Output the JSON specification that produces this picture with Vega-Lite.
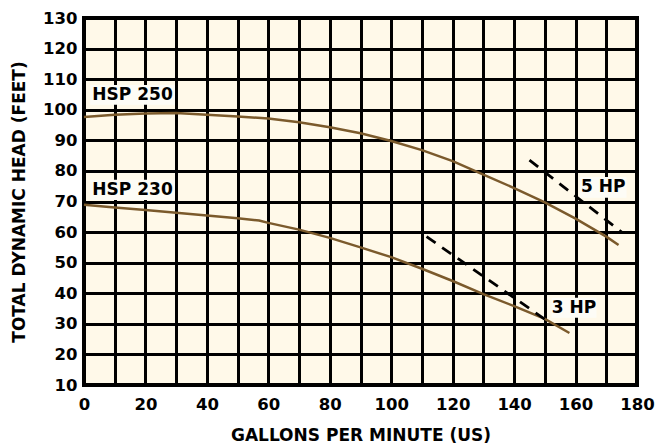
{
  "$schema": "https://vega.github.io/schema/vega-lite/v6.json",
  "autosize": "none",
  "width": 553,
  "height": 367,
  "padding": {"left": 84, "top": 18, "right": 21, "bottom": 59},
  "background": "#ffffff",
  "config": {
    "view": {"fill": "#FFF9E9", "stroke": "#000000", "strokeWidth": 4},
    "axis": {
      "grid": true, "gridColor": "#000000", "gridWidth": 3, "gridOpacity": 1,
      "domain": false, "ticks": false, "labelOverlap": false, "labelFlush": false, "labelBound": false,
      "labelFont": "DejaVu Sans", "labelFontWeight": "bold", "labelFontSize": 16.5, "labelColor": "#000000",
      "titleFont": "DejaVu Sans", "titleFontWeight": "bold", "titleFontSize": 17, "titleColor": "#000000"
    }
  },
  "datasets": {
    "pumps": [
      {"model": "HSP 250", "gpm": 0, "head": 97.6},
      {"model": "HSP 250", "gpm": 10, "head": 98.4},
      {"model": "HSP 250", "gpm": 20, "head": 98.8},
      {"model": "HSP 250", "gpm": 30, "head": 98.9},
      {"model": "HSP 250", "gpm": 40, "head": 98.4},
      {"model": "HSP 250", "gpm": 50, "head": 97.8},
      {"model": "HSP 250", "gpm": 60, "head": 97.1},
      {"model": "HSP 250", "gpm": 70, "head": 95.9},
      {"model": "HSP 250", "gpm": 80, "head": 94.3},
      {"model": "HSP 250", "gpm": 90, "head": 92.3},
      {"model": "HSP 250", "gpm": 100, "head": 89.8},
      {"model": "HSP 250", "gpm": 110, "head": 86.8},
      {"model": "HSP 250", "gpm": 120, "head": 83.2},
      {"model": "HSP 250", "gpm": 130, "head": 78.8},
      {"model": "HSP 250", "gpm": 140, "head": 74.4},
      {"model": "HSP 250", "gpm": 150, "head": 69.7},
      {"model": "HSP 250", "gpm": 160, "head": 64.4},
      {"model": "HSP 250", "gpm": 170, "head": 58.5},
      {"model": "HSP 250", "gpm": 174, "head": 55.8},
      {"model": "HSP 230", "gpm": 0, "head": 68.9},
      {"model": "HSP 230", "gpm": 10, "head": 68.0},
      {"model": "HSP 230", "gpm": 20, "head": 67.2},
      {"model": "HSP 230", "gpm": 30, "head": 66.3},
      {"model": "HSP 230", "gpm": 40, "head": 65.4},
      {"model": "HSP 230", "gpm": 50, "head": 64.5},
      {"model": "HSP 230", "gpm": 57, "head": 63.8},
      {"model": "HSP 230", "gpm": 60, "head": 63.0},
      {"model": "HSP 230", "gpm": 70, "head": 60.8},
      {"model": "HSP 230", "gpm": 80, "head": 58.1},
      {"model": "HSP 230", "gpm": 90, "head": 55.0},
      {"model": "HSP 230", "gpm": 100, "head": 51.8},
      {"model": "HSP 230", "gpm": 110, "head": 48.0},
      {"model": "HSP 230", "gpm": 120, "head": 44.0},
      {"model": "HSP 230", "gpm": 130, "head": 39.7},
      {"model": "HSP 230", "gpm": 140, "head": 35.8},
      {"model": "HSP 230", "gpm": 150, "head": 31.6},
      {"model": "HSP 230", "gpm": 158, "head": 27.0}
    ],
    "hp": [
      {"motor": "5 HP", "gpm": 145, "head": 83.5},
      {"motor": "5 HP", "gpm": 175, "head": 60},
      {"motor": "3 HP", "gpm": 111.5, "head": 58.5},
      {"motor": "3 HP", "gpm": 150, "head": 31.5}
    ],
    "labels": [
      {"text": "HSP 250", "x": 15.8, "y": 104.9, "x1": 2, "x2": 29.6, "y1": 101.6, "y2": 108.1},
      {"text": "HSP 230", "x": 15.8, "y": 73.8, "x1": 2, "x2": 29.6, "y1": 70.5, "y2": 77.1},
      {"text": "5 HP", "x": 169, "y": 74.6, "x1": 161.3, "x2": 176.6, "y1": 71.2, "y2": 78},
      {"text": "3 HP", "x": 159.5, "y": 35.2, "x1": 152.2, "x2": 166.8, "y1": 32, "y2": 38.5}
    ]
  },
  "encoding": {
    "x": {"type": "quantitative", "scale": {"domain": [0, 180], "nice": false},
      "axis": {"values": [0,10,20,30,40,50,60,70,80,90,100,110,120,130,140,150,160,170,180],
        "labelExpr": "datum.value % 20 == 0 ? datum.label : ''", "labelPadding": 11,
        "title": "GALLONS PER MINUTE (US)", "titlePadding": 15}},
    "y": {"type": "quantitative", "scale": {"domain": [10, 130], "nice": false},
      "axis": {"values": [10,20,30,40,50,60,70,80,90,100,110,120,130], "labelPadding": 7,
        "title": "TOTAL DYNAMIC HEAD (FEET)", "titlePadding": 14}}
  },
  "layer": [
    {
      "data": {"name": "labels"},
      "mark": {"type": "rect", "fill": "#FDFCF6"},
      "encoding": {
        "x": {"field": "x1", "type": "quantitative"},
        "x2": {"field": "x2"},
        "y": {"field": "y1", "type": "quantitative"},
        "y2": {"field": "y2"}
      }
    },
    {
      "data": {"name": "pumps"},
      "mark": {"type": "line", "color": "#7B5A2C", "strokeWidth": 2.5},
      "encoding": {
        "x": {"field": "gpm", "type": "quantitative"},
        "y": {"field": "head", "type": "quantitative"},
        "detail": {"field": "model"}
      }
    },
    {
      "data": {"name": "hp"},
      "mark": {"type": "line", "color": "#000000", "strokeWidth": 2.8, "strokeDash": [11, 8]},
      "encoding": {
        "x": {"field": "gpm", "type": "quantitative"},
        "y": {"field": "head", "type": "quantitative"},
        "detail": {"field": "motor"}
      }
    },
    {
      "data": {"name": "labels"},
      "mark": {"type": "text", "font": "DejaVu Sans", "fontWeight": "bold", "fontSize": 17, "color": "#000000", "align": "center", "baseline": "middle"},
      "encoding": {
        "x": {"field": "x", "type": "quantitative"},
        "y": {"field": "y", "type": "quantitative"},
        "text": {"field": "text"}
      }
    }
  ]
}
